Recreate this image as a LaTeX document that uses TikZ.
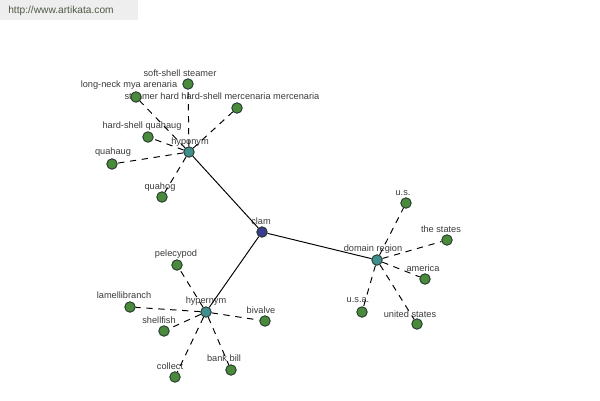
\documentclass[tikz,border=0pt]{standalone}
\usepackage{fontspec}
\setmainfont{Liberation Sans}
\usetikzlibrary{positioning}
\definecolor{leafgreen}{HTML}{4A8A3C}
\definecolor{hubteal}{HTML}{3F8F8F}
\definecolor{rootblue}{HTML}{3C3C8E}
\definecolor{rimdark}{HTML}{23352A}
\definecolor{txtgray}{HTML}{3A3A3A}
\definecolor{bargray}{HTML}{EEEEEE}
\definecolor{urlgray}{HTML}{4F5A45}

\begin{document}
\begin{tikzpicture}[
            x = 0.02cm, y = -0.02cm, % one unit is one pixel
            link/.style = {line width = 0.55pt}, % solid lines to the hubs
            spoke/.style = {line width = 0.55pt, dash pattern = on 3.6pt off 3.2pt} % dashed lines to leaves
        ]

        \tikzstyle{leaf}=[
            circle,
            draw = rimdark,
            line width = 0.5pt,
            fill = leafgreen,
            inner sep = 0pt,
            minimum size = 0.21cm
        ]
        \tikzstyle{hub}=[leaf, fill = hubteal]
        \tikzstyle{word}=[
            inner sep = 0pt,
            text = txtgray,
            font = \fontsize{5.25}{6}\selectfont
        ]

        \useasboundingbox (0,0) rectangle (600,400);
        \fill[bargray] (0,0) rectangle (138,20);
        \node[inner sep = 0pt, text = urlgray, font = \fontsize{5.8}{7}\selectfont] (url) at (61,11) {http://www.artikata.com};

        % labels
        \node[word] (soft-t) at (180,73) {soft-shell steamer};
        \node[word] (neck-t) at (129,85) {long-neck mya arenaria};
        \node[word] (steam-t) at (222,96) {steamer hard hard-shell mercenaria mercenaria};
        \node[word] (hard-t) at (142,126) {hard-shell quahaug};
        \node[word] (quahaug-t) at (113,152) {quahaug};
        \node[word] (quahog-t) at (160,187) {quahog};
        \node[word] (hypo-t) at (190,142) {hyponym};
        \node[word] (clam-t) at (261,221) {clam};
        \node[word] (pele-t) at (176,254) {pelecypod};
        \node[word] (lamel-t) at (124,295) {lamellibranch};
        \node[word] (shell-t) at (159,320) {shellfish};
        \node[word] (collect-t) at (170,366) {collect};
        \node[word] (bank-t) at (224,358) {bank bill};
        \node[word] (biv-t) at (261,310) {bivalve};
        \node[word] (hyper-t) at (206,301) {hypernym};
        \node[word] (dom-t) at (373,249) {domain region};
        \node[word] (us-t) at (403,193) {u.s.};
        \node[word] (states-t) at (441,229) {the states};
        \node[word] (america-t) at (423,268) {america};
        \node[word] (united-t) at (410,314) {united states};
        \node[word] (usa-t) at (358,300) {u.s.a.};

        % dots
        \node[hub, fill = rootblue] (clam) at (262,232) {};
        \node[hub] (hypo) at (189,152) {};
        \node[hub] (hyper) at (206,312) {};
        \node[hub] (dom) at (377,260) {};

        \node[leaf] (soft) at (188,84) {};
        \node[leaf] (neck) at (136,97) {};
        \node[leaf] (steam) at (237,108) {};
        \node[leaf] (hard) at (148,137) {};
        \node[leaf] (quahaug) at (112,164) {};
        \node[leaf] (quahog) at (162,197) {};

        \node[leaf] (pele) at (177,265) {};
        \node[leaf] (lamel) at (130,307) {};
        \node[leaf] (shell) at (164,331) {};
        \node[leaf] (collect) at (175,377) {};
        \node[leaf] (bank) at (231,370) {};
        \node[leaf] (biv) at (265,321) {};

        \node[leaf] (us) at (406,203) {};
        \node[leaf] (states) at (447,240) {};
        \node[leaf] (america) at (425,279) {};
        \node[leaf] (united) at (417,324) {};
        \node[leaf] (usa) at (362,312) {};

        % connectors
        \draw[link] (clam) edge (hypo) edge (hyper) edge (dom);
        \foreach \n in {soft, neck, steam, hard, quahaug, quahog}
            \draw[spoke] (hypo) -- (\n);
        \foreach \n in {pele, lamel, shell, collect, bank, biv}
            \draw[spoke] (hyper) -- (\n);
        \foreach \n in {us, states, america, united, usa}
            \draw[spoke] (dom) -- (\n);
    \end{tikzpicture}
\end{document}
